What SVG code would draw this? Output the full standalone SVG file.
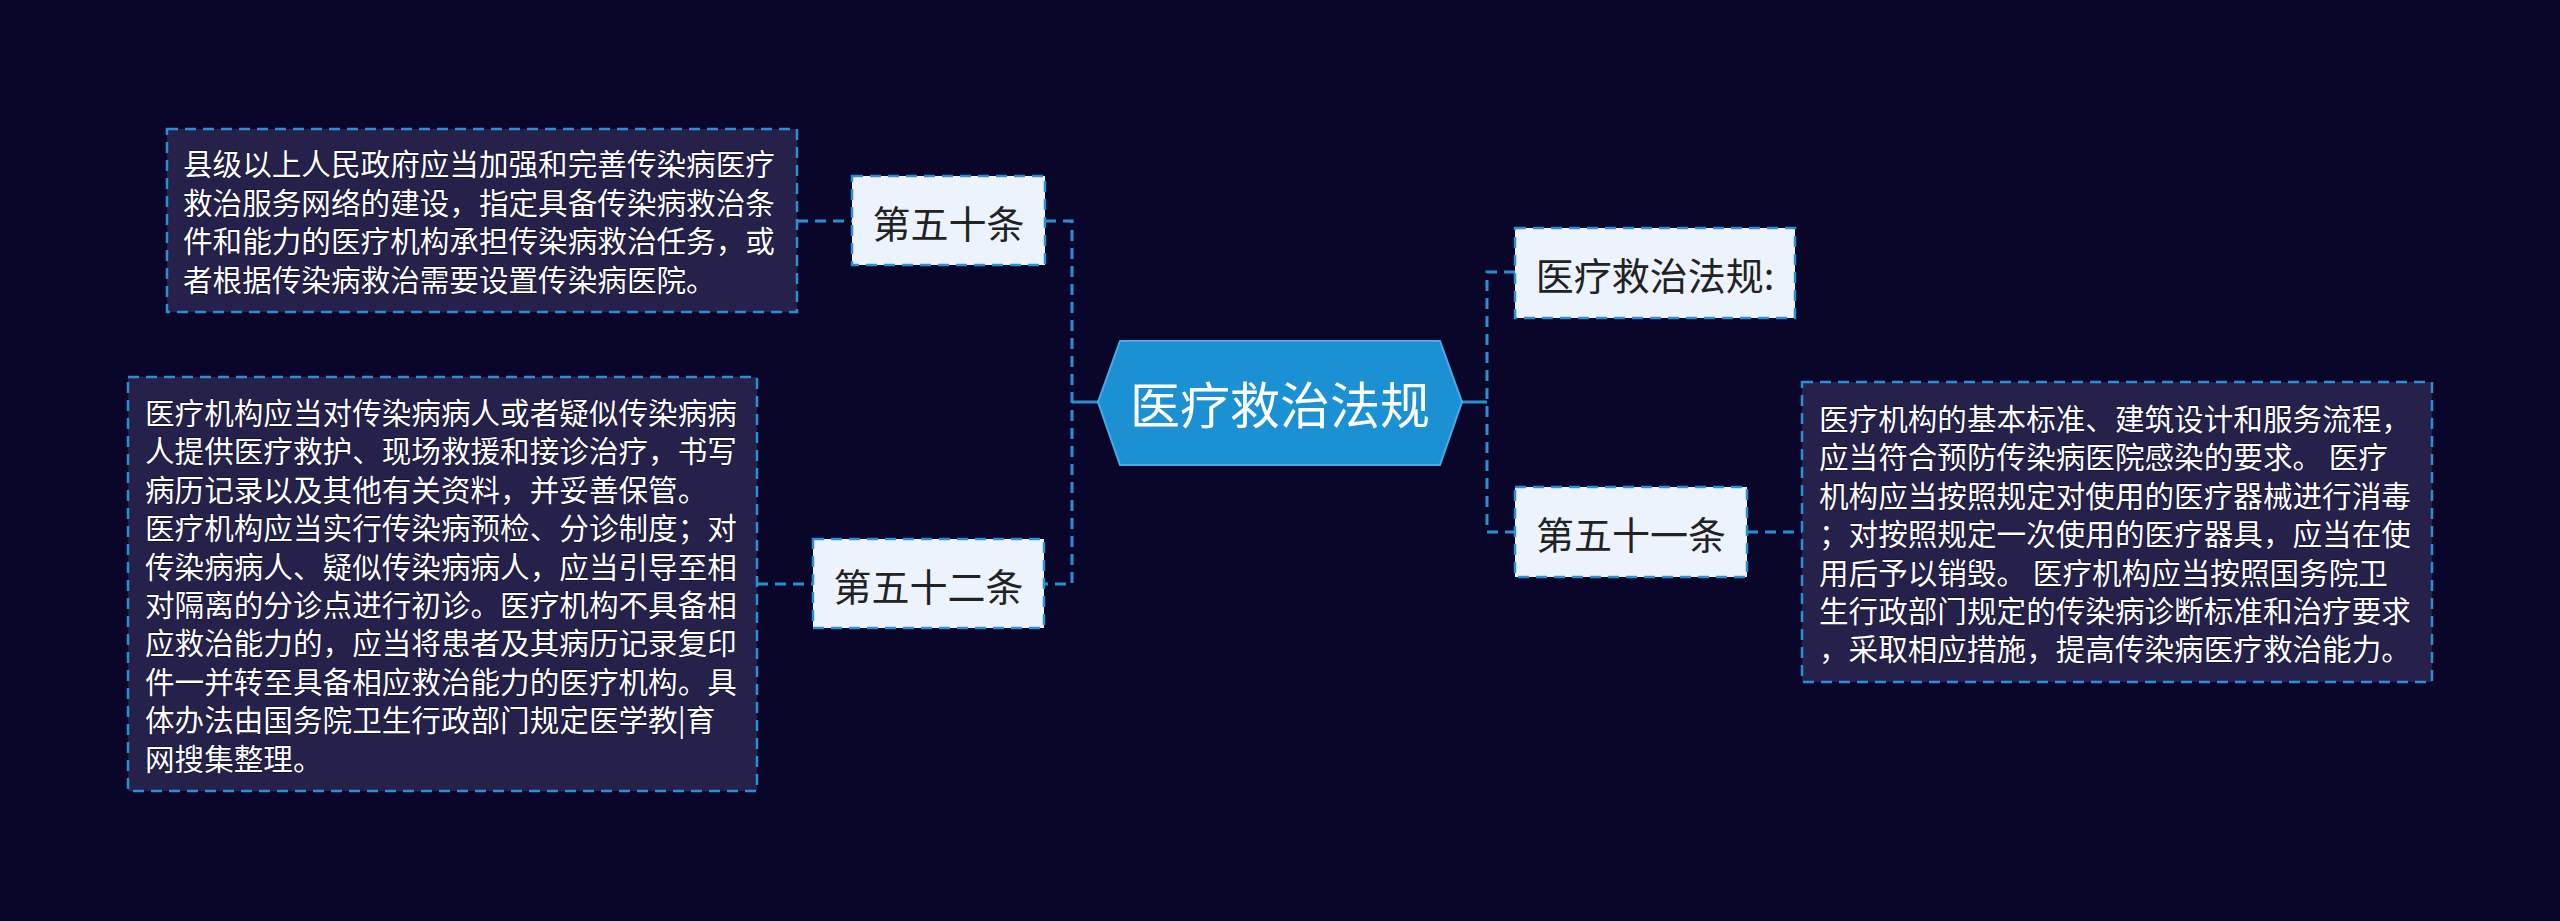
<svg xmlns="http://www.w3.org/2000/svg" width="2560" height="921" viewBox="0 0 2560 921">
<style>
.bg{fill:#0a0629}
.conn{fill:none;stroke:#2a90d6;stroke-width:3;stroke-dasharray:11 7}
.solid{fill:none;stroke:#2a90d6;stroke-width:3}
.desc{fill:#25214b;stroke:#2a90d6;stroke-width:2.5;stroke-dasharray:11 7}
.lbl{fill:#edf3fc;stroke:#2a90d6;stroke-width:2.5;stroke-dasharray:11 7}
.dt{font-family:"Noto Sans CJK SC","Noto Sans",sans-serif;font-size:29.6px;fill:#ffffff;stroke:#120e30;stroke-width:1.2px;paint-order:stroke}
.lt{font-family:"Noto Sans CJK SC","Noto Sans",sans-serif;font-size:38px;fill:#222222;text-anchor:middle;dominant-baseline:central}
.ct{font-family:"Noto Sans CJK SC","Noto Sans",sans-serif;font-size:50px;fill:#ffffff;text-anchor:middle;dominant-baseline:central}
</style>
<rect class="bg" x="0" y="0" width="2560" height="921"/>
<g id="connectors">
<path class="conn" d="M797 221 H852"/>
<path class="conn" d="M757 584 H813"/>
<path class="conn" d="M1045 221 H1072 V584 H1044"/>
<path class="solid" d="M1072 402 H1098"/>
<path class="solid" d="M1462 402 H1487"/>
<path class="conn" d="M1515 272 H1487 V532 H1515"/>
<path class="conn" d="M1747 532 H1802"/>
</g>
<g id="center">
<polygon points="1098,402 1120,341 1440,341 1462,402 1440,465 1120,465" fill="#1b91d4" stroke="#4aa9e6" stroke-width="2"/>
<text class="ct" x="1280" y="402">医疗救治法规</text>
</g>
<g id="n50">
<rect class="lbl" x="852" y="176" width="193" height="89"/>
<text class="lt" x="948.5" y="221">第五十条</text>
</g>
<g id="n50desc">
<rect class="desc" x="167" y="129" width="630" height="183"/>
<text class="dt" x="183" y="175">县级以上人民政府应当加强和完善传染病医疗</text>
<text class="dt" x="183" y="213.5">救治服务网络的建设，指定具备传染病救治条</text>
<text class="dt" x="183" y="252">件和能力的医疗机构承担传染病救治任务，或</text>
<text class="dt" x="183" y="290.5">者根据传染病救治需要设置传染病医院。</text>
</g>
<g id="n52">
<rect class="lbl" x="813" y="539" width="231" height="89"/>
<text class="lt" x="928.5" y="584">第五十二条</text>
</g>
<g id="n52desc">
<rect class="desc" x="128" y="377" width="629" height="414"/>
<text class="dt" x="145" y="424">医疗机构应当对传染病病人或者疑似传染病病</text>
<text class="dt" x="145" y="462.4">人提供医疗救护、现场救援和接诊治疗，书写</text>
<text class="dt" x="145" y="500.8">病历记录以及其他有关资料，并妥善保管。</text>
<text class="dt" x="145" y="539.2">医疗机构应当实行传染病预检、分诊制度；对</text>
<text class="dt" x="145" y="577.6">传染病病人、疑似传染病病人，应当引导至相</text>
<text class="dt" x="145" y="616">对隔离的分诊点进行初诊。医疗机构不具备相</text>
<text class="dt" x="145" y="654.4">应救治能力的，应当将患者及其病历记录复印</text>
<text class="dt" x="145" y="692.8">件一并转至具备相应救治能力的医疗机构。具</text>
<text class="dt" x="145" y="731.2">体办法由国务院卫生行政部门规定医学教|育</text>
<text class="dt" x="145" y="769.6">网搜集整理。</text>
</g>
<g id="nlaw">
<rect class="lbl" x="1515" y="228" width="280" height="90"/>
<text class="lt" x="1655" y="273">医疗救治法规:</text>
</g>
<g id="n51">
<rect class="lbl" x="1515" y="487" width="232" height="90"/>
<text class="lt" x="1631" y="532">第五十一条</text>
</g>
<g id="n51desc">
<rect class="desc" x="1802" y="382" width="630" height="300"/>
<text class="dt" x="1819" y="430">医疗机构的基本标准、建筑设计和服务流程，</text>
<text class="dt" x="1819" y="468.4">应当符合预防传染病医院感染的要求。 医疗</text>
<text class="dt" x="1819" y="506.8">机构应当按照规定对使用的医疗器械进行消毒</text>
<text class="dt" x="1819" y="545.2">；对按照规定一次使用的医疗器具，应当在使</text>
<text class="dt" x="1819" y="583.6">用后予以销毁。 医疗机构应当按照国务院卫</text>
<text class="dt" x="1819" y="622">生行政部门规定的传染病诊断标准和治疗要求</text>
<text class="dt" x="1819" y="660.4">，采取相应措施，提高传染病医疗救治能力。</text>
</g>
</svg>
